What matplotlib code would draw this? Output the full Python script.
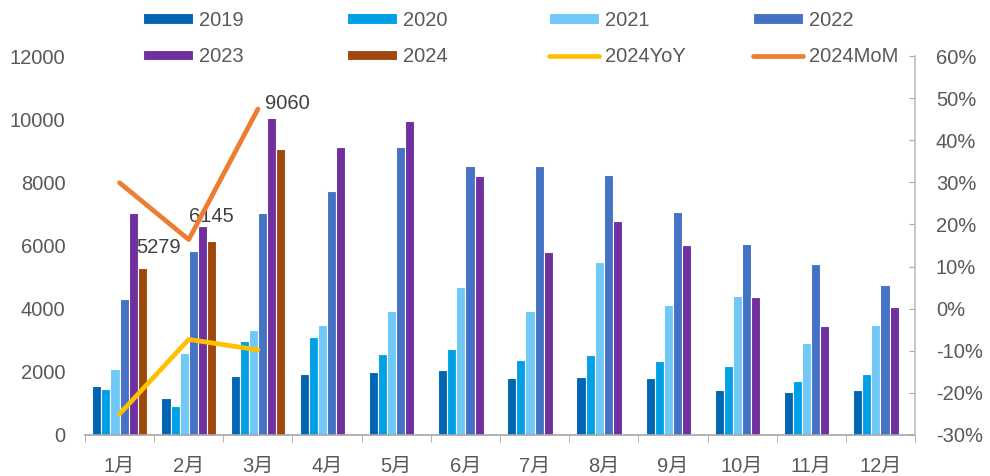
import numpy as np
import matplotlib
matplotlib.use('Agg')
import matplotlib.pyplot as plt
from matplotlib.ticker import FuncFormatter

plt.rcParams['font.family'] = ['Liberation Sans', 'Noto Sans CJK SC', 'DejaVu Sans']
plt.rcParams['font.size'] = 14

#%% Data
months = ['1月', '2月', '3月', '4月', '5月', '6月', '7月', '8月', '9月', '10月', '11月', '12月']
v2019 = [1550, 1160, 1880, 1920, 2000, 2050, 1790, 1840, 1790, 1410, 1370, 1410]
v2020 = [1460, 920, 2980, 3100, 2560, 2720, 2380, 2540, 2330, 2170, 1710, 1920]
v2021 = [2080, 2590, 3310, 3470, 3940, 4700, 3940, 5490, 4110, 4400, 2920, 3470]
v2022 = [4310, 5840, 7040, 7740, 9110, 8530, 8530, 8230, 7050, 6050, 5420, 4740]
v2023 = [7040, 6630, 10040, 9110, 9950, 8200, 5800, 6760, 6010, 4360, 3440, 4063]
v2024 = [5279, 6145, 9060]
yoy_2024 = [-0.250, -0.073, -0.098]
mom_2024 = [0.299, 0.164, 0.474]

years = ['2019', '2020', '2021', '2022', '2023', '2024']
series = [v2019, v2020, v2021, v2022, v2023, v2024]
colors = ['#0066b4', '#00a0e6', '#6fc8f5', '#4472c4', '#7030a0', '#9e480e']
gray = '#595959'

#%% Plot
fig = plt.figure(figsize=(9.9, 4.76), dpi=100)
ax = fig.add_axes([85/990, 41/476, 830/990, 379/476])
ax2 = ax.twinx()

x = np.arange(len(months))
w = 0.1315
for i, (yr, vals, c) in enumerate(zip(years, series, colors)):
    xs = x[:len(vals)] + (i - 2.5) * w
    ax.bar(xs, vals, width=w, color=c, edgecolor='white', linewidth=0.8, label=yr, zorder=2)

xl = x[:len(v2024)]
ax2.plot(xl, yoy_2024, color='#ffc000', lw=3.4, solid_capstyle='round', label='2024YoY', zorder=3)
ax2.plot(xl, mom_2024, color='#ed7d31', lw=3.4, solid_capstyle='round', label='2024MoM', zorder=3)

# data labels for 2024 bars
offsets = [(16, 21), (0, 24), (7, 45)]
for xi, v, (dx, dy) in zip(xl + 2.5 * w, v2024, offsets):
    ax.annotate(str(v), (xi, v), xytext=(dx, dy), textcoords='offset pixels',
                ha='center', va='center', color='#404040', fontsize=14.5, zorder=5)

ax.set_xlim(-0.5, 11.5)
ax.set_ylim(0, 12000)
ax.set_yticks(range(0, 12001, 2000))
ax2.set_ylim(-0.3, 0.6)
ax2.set_yticks(np.arange(-0.3, 0.61, 0.1))
ax2.yaxis.set_major_formatter(FuncFormatter(lambda v, p: f'{round(v * 100):.0f}%'))

ax.set_xticks(x)
ax.set_xticklabels(months)
ax.set_xticks(np.arange(-0.5, 12, 1), minor=True)
ax.tick_params(axis='x', which='major', length=0, pad=16, labelcolor=gray, labelsize=14.5)
ax.tick_params(axis='x', which='minor', length=5, color='#a6a6a6', direction='out')
ax.tick_params(axis='y', length=0, pad=14, labelcolor=gray, labelsize=14.5)
ax2.tick_params(axis='y', length=4, direction='in', color='#a6a6a6', pad=15,
                labelcolor=gray, labelsize=14.5)

for a in (ax, ax2):
    for s in ['top', 'left', 'right', 'bottom']:
        a.spines[s].set_visible(False)
ax.spines['bottom'].set_visible(True)
ax.spines['bottom'].set_color('#a6a6a6')
ax.spines['bottom'].set_linewidth(1.2)
ax2.spines['right'].set_visible(True)
ax2.spines['right'].set_color('#bfbfbf')
ax2.spines['right'].set_linewidth(1.2)

# legend: 4 equal-width columns
h1, l1 = ax.get_legend_handles_labels()
h2, l2 = ax2.get_legend_handles_labels()
handles = h1 + h2
labels = l1 + l2
col_x = [143, 347, 549, 753]
for i, cx in enumerate(col_x):
    fig.legend([handles[i], handles[i + 4]], [labels[i], labels[i + 4]],
               loc='upper left', bbox_to_anchor=(cx / 990, 1 - 11 / 476),
               frameon=False, borderpad=0, borderaxespad=0,
               handlelength=2.5, handleheight=0.45, handletextpad=0.3,
               labelspacing=0.85, fontsize=14.5, labelcolor=gray)

fig.savefig('out.png', dpi=100)
